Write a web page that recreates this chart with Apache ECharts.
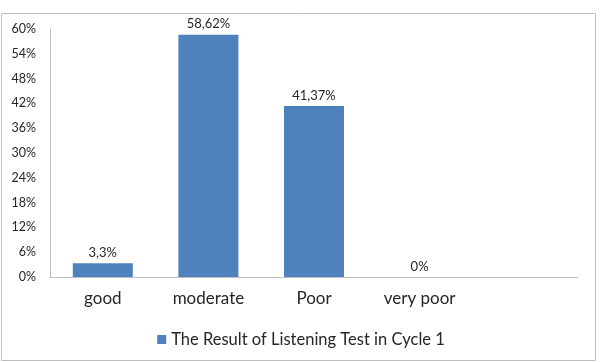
<!DOCTYPE html>
<html>
<head>
<meta charset="utf-8">
<script src="https://cdn.jsdelivr.net/npm/echarts@6/dist/echarts.min.js"></script>
<style>html,body{margin:0;padding:0;background:#fff;}#c{width:602px;height:362px;}</style>
</head>
<body>
<div id="c"></div>
<script>
const categories = ['good', 'moderate', 'Poor', 'very poor', ''];
const values = [3.3, 58.62, 41.37, 0, null];
const valueLabels = ['3,3%', '58,62%', '41,37%', '0%', ''];
const seriesName = 'The Result of Listening Test in Cycle 1';
const yTicks = [0, 6, 12, 18, 24, 30, 36, 42, 48, 54, 60];

const chart = echarts.init(document.getElementById('c'), null, {renderer: 'canvas'});
const font = 'Lato, "Open Sans", sans-serif';
chart.setOption({
  animation: false,
  textStyle: {fontFamily: font},
  graphic: [{
    type: 'rect',
    shape: {x: 1.5, y: 13.5, width: 594, height: 347},
    style: {fill: 'none', stroke: '#bfbfbf', lineWidth: 1},
    silent: true
  }],
  grid: {left: 50, right: 24, top: 29, bottom: 85, containLabel: false},
  legend: {
    data: [seriesName],
    left: 'center',
    top: 326,
    icon: 'rect',
    itemWidth: 9,
    itemHeight: 9,
    itemGap: 5,
    textStyle: {fontSize: 16.5, color: '#262626', fontFamily: font}
  },
  xAxis: {
    type: 'category',
    data: categories,
    axisLine: {show: true, lineStyle: {color: '#bfbfbf', width: 1}},
    axisTick: {show: false},
    axisLabel: {fontSize: 17, color: '#262626', margin: 13, fontFamily: font}
  },
  yAxis: {
    type: 'value',
    min: yTicks[0],
    max: yTicks[yTicks.length - 1],
    interval: 6,
    axisLine: {show: true, lineStyle: {color: '#bfbfbf', width: 1}},
    axisTick: {show: false},
    splitLine: {show: false},
    axisLabel: {fontSize: 12.5, color: '#262626', margin: 14, formatter: '{value}%', fontFamily: font}
  },
  series: [{
    name: seriesName,
    type: 'bar',
    data: values,
    barWidth: 60,
    itemStyle: {color: '#4f81bd'},
    label: {
      show: true,
      position: 'top',
      distance: 4,
      fontSize: 13,
      color: '#262626',
      fontFamily: font,
      formatter: p => valueLabels[p.dataIndex]
    }
  }]
});
</script>
</body>
</html>
